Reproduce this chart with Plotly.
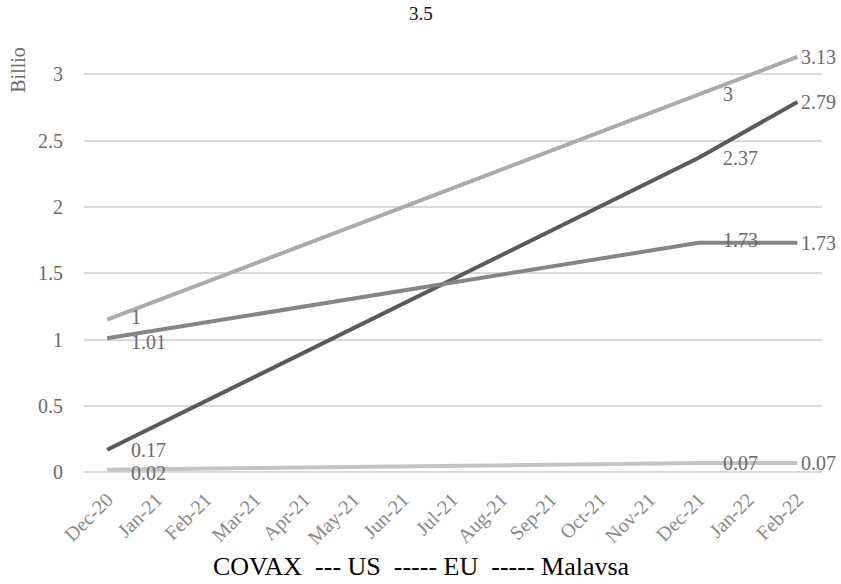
import plotly.graph_objects as go

months = ["Dec-20", "Jan-21", "Feb-21", "Mar-21", "Apr-21", "May-21", "Jun-21",
          "Jul-21", "Aug-21", "Sep-21", "Oct-21", "Nov-21", "Dec-21", "Jan-22", "Feb-22"]
points = ["Dec-20", "Dec-21", "Feb-22"]

covax = [1.15, 2.85, 3.13]
covax_labels = ["1", "3", "3.13"]
us = [0.17, 2.37, 2.79]
us_labels = ["0.17", "2.37", "2.79"]
eu = [1.01, 1.73, 1.73]
eu_labels = ["1.01", "1.73", "1.73"]
malaysia = [0.02, 0.07, 0.07]
malaysia_labels = ["0.02", "0.07", "0.07"]

y_ticks = [0, 0.5, 1, 1.5, 2, 2.5, 3]
y_ticktext = ["0", "0.5", "1", "1.5", "2", "2.5", "3"]

FONT = "Liberation Serif, Times New Roman, serif"

series = [
    ("COVAX", covax, covax_labels, "#ababab", [3, 0, 0]),
    ("US", us, us_labels, "#5a5a5a", [0, 0, 0]),
    ("EU", eu, eu_labels, "#858585", [-4, 3, 0]),
    ("Malaysia", malaysia, malaysia_labels, "#c4c4c4", [-3, 0, 0]),
]

fig = go.Figure()
annotations = []
for name, vals, labels, color, yshifts in series:
    fig.add_trace(go.Scatter(x=points, y=vals, mode="lines", name=name,
                             line=dict(color=color, width=4), showlegend=False,
                             hoverinfo="skip"))
    for i, (xv, yv, lab) in enumerate(zip(points, vals, labels)):
        annotations.append(dict(x=xv, y=yv, text=lab, showarrow=False,
                                xanchor="left", yanchor="middle",
                                xshift=2 if i == 2 else 22, yshift=yshifts[i],
                                font=dict(family=FONT, size=20, color="#6a6a6a")))

annotations.append(dict(xref="paper", yref="paper", x=0.457, y=1.062, text="3.5",
                        showarrow=False, xanchor="center", yanchor="middle",
                        font=dict(family=FONT, size=19, color="#111111")))
annotations.append(dict(xref="paper", yref="paper", x=-0.0894, y=0.935, text="Billio",
                        textangle=-90, showarrow=False, xanchor="center", yanchor="middle",
                        font=dict(family=FONT, size=20, color="#6a6a6a")))
annotations.append(dict(xref="paper", yref="paper", x=0.457, y=-0.19,
                        text="COVAX&nbsp;&nbsp;--- US&nbsp;&nbsp;----- EU&nbsp;&nbsp;----- Malavsa",
                        showarrow=False, xanchor="center", yanchor="middle",
                        font=dict(family=FONT, size=26, color="#000000")))

fig.update_layout(
    width=841, height=584,
    margin=dict(l=84, r=19, t=41, b=101),
    paper_bgcolor="white", plot_bgcolor="white",
    annotations=annotations,
    xaxis=dict(type="category", categoryorder="array", categoryarray=months,
               tickvals=months, ticktext=months,
               range=[-0.47, 14.5], showgrid=False, showline=False, zeroline=False,
               ticks="", tickangle=-45,
               tickfont=dict(family=FONT, size=20, color="#8a8a8a")),
    yaxis=dict(range=[-0.08, 3.25], tickvals=y_ticks, ticktext=y_ticktext,
               showgrid=True, gridcolor="#d9d9d9", gridwidth=1.5,
               zeroline=False, showline=False, ticks="", ticklabelstandoff=20,
               tickfont=dict(family=FONT, size=20, color="#6a6a6a")),
)

fig.write_html("out.html", config={"displayModeBar": False},
               post_script="document.body.style.margin='0';")
